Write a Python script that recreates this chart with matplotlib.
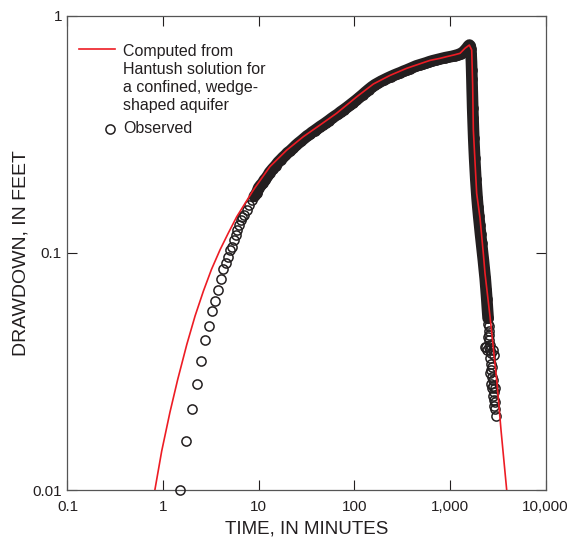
import matplotlib
matplotlib.use("Agg")
import numpy as np
import matplotlib.pyplot as plt

plt.rcParams['font.family'] = ['Liberation Sans', 'DejaVu Sans']

# computed (Hantush, wedge-shaped aquifer) curve
calc_time = [0.82, 0.967, 1.18, 1.42, 1.77, 2.16, 2.64, 3.2, 3.94, 4.8, 5.89, 8.79, 13.1,
             19.6, 29.3, 43.8, 65.4, 106, 158, 236, 353, 527, 620, 788, 927,
             1100, 1276, 1439, 1596, 1690, 1730, 1758, 1905, 2066, 2233, 2328,
             2625, 3090, 3428, 3926]
calc_dd = [0.0100, 0.0146, 0.0213, 0.0292, 0.0411, 0.0542, 0.0690, 0.0850, 0.103, 0.121, 0.142,
           0.184, 0.231, 0.271, 0.309, 0.346, 0.388, 0.455, 0.515, 0.560, 0.600,
           0.634, 0.648, 0.661, 0.672, 0.683, 0.694, 0.729, 0.752, 0.717, 0.510,
           0.330, 0.178, 0.140, 0.100, 0.082, 0.0540, 0.0290, 0.0178, 0.0100]

# observed drawdown
obs_time = [1.5, 1.75, 2.0, 2.25, 2.5, 2.75, 3.0, 3.25, 3.5, 3.75, 4.0, 4.25, 4.5,
            4.75, 5.0, 5.25, 5.5, 5.75, 6.0, 6.25, 6.5, 6.75, 7.0, 7.5, 8.0, 8.5,
            9.0, 9.5,
            10, 10.5, 11, 11.5, 12, 12.5, 13, 14, 15, 16, 17, 18, 19, 20, 21.5,
            23, 24.5, 26, 28, 30, 32, 34, 36, 38.5, 41, 44, 47, 50, 54, 58, 62,
            67, 72, 78, 84, 90, 97, 105, 113, 122, 131, 141, 152, 164, 177, 191,
            206, 222, 240, 260, 280, 303, 327, 353, 382, 412, 445, 481, 520, 562,
            607, 655, 707, 764, 825, 891, 962, 1040, 1120, 1210, 1300, 1380, 1450,
            1510, 1560, 1600,
            1630, 1650, 1665, 1680, 1690, 1700, 1710, 1720, 1730, 1745, 1760, 1775,
            1795, 1815, 1840, 1865, 1895, 1925, 1960, 2000, 2045, 2090, 2140, 2190,
            2240, 2290, 2340, 2390, 2430, 2470, 2510, 2550,
            2520, 2560, 2540, 2580, 2600, 2400, 2470, 2550, 2650, 2720, 2790, 2640,
            2700, 2760, 2660, 2740, 2800, 2850, 2780, 2880, 2830, 2900, 2950, 2870,
            2980, 3030, 2330, 2900, 2600, 2950, 2500, 2680]
obs_dd = [0.0100, 0.0161, 0.0220, 0.0279, 0.0350, 0.0429, 0.0490, 0.0569, 0.0627,
          0.0696, 0.0774, 0.0854, 0.0902, 0.0957, 0.1033, 0.106, 0.113, 0.119,
          0.125, 0.131, 0.137, 0.141, 0.144, 0.151, 0.159, 0.167, 0.173, 0.178,
          0.188, 0.193, 0.197, 0.203, 0.207, 0.212, 0.218, 0.226, 0.233, 0.241,
          0.247, 0.253, 0.258, 0.264, 0.270, 0.277, 0.284, 0.290, 0.297, 0.304,
          0.311, 0.316, 0.322, 0.328, 0.334, 0.341, 0.347, 0.353, 0.361, 0.369,
          0.376, 0.384, 0.393, 0.402, 0.411, 0.420, 0.430, 0.441, 0.452, 0.464,
          0.476, 0.488, 0.500, 0.511, 0.520, 0.529, 0.537, 0.545, 0.553, 0.561,
          0.568, 0.575, 0.583, 0.590, 0.598, 0.606, 0.614, 0.620, 0.626, 0.632,
          0.639, 0.645, 0.650, 0.655, 0.660, 0.665, 0.669, 0.673, 0.678, 0.684,
          0.692, 0.703, 0.718, 0.732, 0.745, 0.752,
          0.745, 0.725, 0.690, 0.640, 0.590, 0.540, 0.490, 0.450, 0.410, 0.370,
          0.335, 0.305, 0.275, 0.250, 0.226, 0.205, 0.186, 0.170, 0.156, 0.143,
          0.131, 0.120, 0.110, 0.101, 0.093, 0.085, 0.078, 0.070, 0.064, 0.058,
          0.053, 0.049,
          0.050, 0.047, 0.045, 0.043, 0.041, 0.040, 0.039, 0.040, 0.039, 0.038,
          0.039, 0.036, 0.034, 0.033, 0.032, 0.030, 0.029, 0.0275, 0.027, 0.026,
          0.025, 0.024, 0.0235, 0.0225, 0.022, 0.0205, 0.040, 0.037, 0.031, 0.027,
          0.044, 0.028]

x_ticks = [0.1, 1, 10, 100, 1000, 10000]
x_tick_labels = ['0.1', '1', '10', '100', '1,000', '10,000']
y_ticks = [0.01, 0.1, 1]
y_tick_labels = ['0.01', '0.1', '1']

ink = '#231f20'
red = '#ed1c24'

fig = plt.figure(figsize=(5.72, 5.45), dpi=100)
ax = fig.add_axes([0.118, 0.1009, 0.8357, 0.8703])

t = np.array(obs_time)
d = np.array(obs_dd)
# where the circles overlap into a solid band
dense = (t >= 9.0) & (d >= 0.049)
dense[np.argmax(t >= 2520):] = False
ax.plot(t[dense], d[dense], color=ink, lw=8.4, solid_capstyle='round',
        solid_joinstyle='round', zorder=2)
ax.plot(t, d, 'o', mfc='none', mec=ink, ms=6.6, mew=1.1, clip_on=False, zorder=3)
ax.plot(calc_time, calc_dd, color=red, lw=1.2, zorder=4)

ax.set_xscale('log')
ax.set_yscale('log')
ax.set_xlim(0.1, 10000)
ax.set_ylim(0.01, 1)
ax.set_xticks(x_ticks)
ax.set_xticklabels(x_tick_labels)
ax.set_yticks(y_ticks)
ax.set_yticklabels(y_tick_labels)
ax.xaxis.set_minor_locator(matplotlib.ticker.NullLocator())
ax.yaxis.set_minor_locator(matplotlib.ticker.NullLocator())
ax.tick_params(which='both', direction='in', top=True, right=True, length=7,
               width=0.8, color=ink, labelcolor=ink, labelsize=11)
ax.tick_params(axis='x', pad=7)
ax.tick_params(axis='y', pad=4)
for s in ax.spines.values():
    s.set_color('#555555')
    s.set_linewidth(0.9)

ax.set_xlabel('TIME, IN MINUTES', fontsize=13.5, color=ink)
ax.set_ylabel('DRAWDOWN, IN FEET', fontsize=14, color=ink)
ax.xaxis.set_label_coords(0.5, -0.064)
ax.yaxis.set_label_coords(-0.080, 0.5)

# legend
ax.plot([0.024, 0.099], [0.930, 0.930], transform=ax.transAxes, color=red, lw=1.2)
ax.text(0.1167, 0.940, 'Computed from\nHantush solution for\na confined, wedge-\nshaped aquifer',
        transform=ax.transAxes, va='top', ha='left', fontsize=11.5, color=ink,
        linespacing=1.24)
ax.plot([0.0889], [0.7611], 'o', transform=ax.transAxes, mfc='none', mec=ink,
        ms=6.6, mew=1.1)
ax.text(0.1167, 0.7632, 'Observed', transform=ax.transAxes, va='center',
        ha='left', fontsize=11.5, color=ink)

fig.savefig('out.png', dpi=100)
